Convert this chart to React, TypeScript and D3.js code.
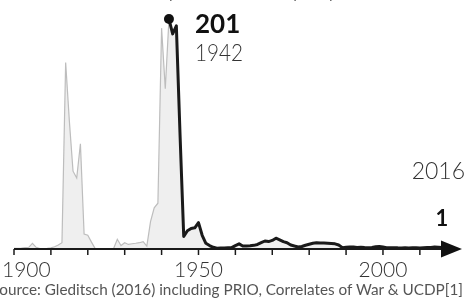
import React from "react";
import * as d3 from "d3";

const earlyYears = d3.range(1900, 1942);
const earlyValues = [
  0.6, 0.6, 0.8, 1.2, 1.5, 5, 1.5, 0.4, 0.4, 0.6,
  1, 2, 3.5, 5.5, 163, 112, 68, 62, 92, 13,
  12, 6, 0.4, 0.3, 0.3, 0.3, 0.3, 0.5, 8.5, 3,
  5.5, 4, 4.6, 5, 5.5, 6.4, 2.6, 24, 36, 40,
  193, 140,
];
const lateYears = d3.range(1942, 2017);
const lateValues = [
  201, 188, 195, 100, 11, 16, 18, 18.5,
  23, 12, 5, 3, 1.5, 0.7, 0.8, 0.9, 1.1, 1.2,
  3.0, 4.5, 2.6, 2.6, 2.8, 3.2, 4.0, 5.5, 7, 6.5,
  7.5, 9.4, 8, 6.4, 5.5, 3.5, 2.6, 1.8, 2.2, 3.3,
  4.2, 5, 5.5, 5.3, 5.2, 5, 4.8, 4.5, 3.5, 1.2,
  1.5, 1.8, 1.7, 1.4, 1.6, 1.3, 1.2, 1.4, 1.9, 2.2,
  1.7, 1.2, 1.1, 1.2, 1.0, 0.9, 1.0, 0.9, 1.1, 1.2,
  0.9, 1.1, 1.3, 1.4, 1.8, 1.6, 1.3,
];
const grayEndYear = 1989;
const tickYears = d3.range(1900, 2011, 10);
const labelYears = [1900, 1950, 2000];
const peakYear = 1942;
const peakValue = 201;
const lastYear = 2016;
const lastValue = 1;
const sourceText = "Source: Gleditsch (2016) including PRIO, Correlates of War & UCDP[1]";
const titleText = "Battle deaths per 100,000 people (world)";

export default function App() {
  const W = 466, H = 299;
  const x = d3.scaleLinear().domain([1900, 2016]).range([14, 442]);
  const y = d3.scaleLinear().domain([0, 201]).range([249, 19]);

  const early = earlyYears.map((yr, i) => ({ yr, v: earlyValues[i] }));
  const late = lateYears.map((yr, i) => ({ yr, v: lateValues[i] }));
  const gray = early.concat(late.filter((d) => d.yr <= grayEndYear));

  const area = d3.area<{ yr: number; v: number }>()
    .x((d) => x(d.yr)).y0(y(0)).y1((d) => y(d.v));
  const line = d3.line<{ yr: number; v: number }>()
    .x((d) => x(d.yr)).y((d) => y(d.v));

  const font = "Lato, 'Open Sans', sans-serif";
  const axisY = y(0);

  return (
    <div style={{ position: "fixed", left: 0, top: 0 }}>
      <svg width={W} height={H} style={{ display: "block" }} fontFamily={font}>
        <text x={233} y={-3} textAnchor="middle" fontSize={22} fill="#333" fontWeight={300}>{titleText}</text>
        <path d={area(gray) || ""} fill="#efefef" stroke="none" />
        <path d={line(gray) || ""} fill="none" stroke="#bdbdbd" strokeWidth={1.2} />
        <path d={line(late) || ""} fill="none" stroke="#1a1a1a" strokeWidth={3} strokeLinejoin="round" />
        {/* axis */}
        <line x1={x(1900)} x2={x(2016) + 2} y1={axisY} y2={axisY} stroke="#1a1a1a" strokeWidth={2} />
        <path d={`M${x(2016) - 1},${axisY - 8.5} L${x(2016) + 20},${axisY} L${x(2016) - 1},${axisY + 8.5} Z`} fill="#111" />
        {tickYears.map((t) => (
          <line key={t} x1={x(t)} x2={x(t)} y1={axisY} y2={axisY + 6} stroke="#1a1a1a" strokeWidth={1.5} />
        ))}
        {labelYears.map((t, i) => (
          <text key={t} x={i === 0 ? 2 : x(t)} y={277} textAnchor={i === 0 ? "start" : "middle"}
            fontSize={21} fontWeight={300} fill="#333">{t}</text>
        ))}
        {/* peak annotation */}
        <circle cx={x(peakYear)} cy={y(peakValue)} r={5} fill="#111" />
        <text x={195} y={33} fontSize={26} fontWeight={700} fill="#111">{peakValue}</text>
        <text x={195} y={61} fontSize={24} fontWeight={300} fill="#333" textLength={48} lengthAdjust="spacingAndGlyphs">{peakYear}</text>
        {/* last annotation */}
        <text x={465} y={179} textAnchor="end" fontSize={23} fontWeight={300} fill="#333">{lastYear}</text>
        <text x={x(lastYear)} y={226} textAnchor="middle" fontSize={22} fontWeight={700} fill="#111">{lastValue}</text>
        <text x={-9} y={295} fontSize={15} fill="#555" textLength={472} lengthAdjust="spacingAndGlyphs">{sourceText}</text>
      </svg>
    </div>
  );
}
